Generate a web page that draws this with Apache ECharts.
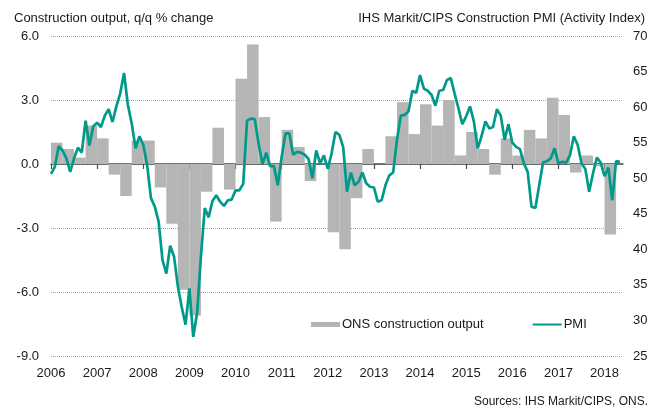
<!DOCTYPE html>
<html>
<head>
<meta charset="utf-8">
<script src="https://cdn.jsdelivr.net/npm/echarts@6/dist/echarts.min.js"></script>
<style>
  html, body { margin: 0; padding: 0; background: #fff; }
  #chart { width: 660px; height: 407px; }
</style>
</head>
<body>
<div id="chart"></div>
<script>
// year tick labels
var years = [2006, 2007, 2008, 2009, 2010, 2011, 2012, 2013, 2014, 2015, 2016, 2017, 2018];

// ONS construction output, q/q % change, 2006 Q1 .. 2018 Q1
var outputQ = [
  1.0, 0.7, 0.3, 1.8,
  1.2, -0.5, -1.5, 1.1,
  1.1, -1.1, -2.8, -5.9,
  -7.1, -1.3, 1.7, -1.2,
  4.0, 5.6, 2.2, -2.7,
  1.6, 0.8, -0.8, 0.0,
  -3.2, -4.0, -1.6, 0.7,
  0.0, 1.3, 2.9, 1.4,
  2.8, 1.8, 3.0, 0.4,
  1.5, 0.7, -0.5, 1.2,
  0.4, 1.6, 1.2, 3.1,
  2.3, -0.4, 0.4, -0.1,
  -3.3
];

// PMI (activity index), monthly, Jan 2006 .. May 2018
var pmiM = [
  50.6, 51.6, 54.5, 53.9, 52.8, 50.9, 52.8, 54.3, 53.6, 58.1, 54.6, 57.3,
  57.8, 57.2, 58.8, 59.7, 57.9, 60.1, 61.9, 64.8, 60.3, 57.7, 54.2, 55.9,
  54.7, 51.9, 47.2, 46.0, 43.9, 38.5, 36.6, 40.5, 39.0, 34.8, 31.9, 29.4,
  34.5, 27.7, 31.0, 39.0, 45.8, 44.5, 46.8, 47.6, 46.7, 46.1, 46.9, 47.0,
  48.3, 48.3, 49.2, 58.1, 58.4, 58.3, 54.9, 52.0, 53.6, 51.7, 51.7, 49.0,
  53.0, 56.3, 56.3, 53.3, 53.7, 53.6, 53.3, 52.7, 50.0, 53.9, 52.1, 53.2,
  51.3, 53.5, 56.5, 56.1, 54.4, 48.1, 50.8, 49.0, 49.5, 50.8, 49.3, 48.8,
  48.7, 46.7, 46.9, 49.0, 50.4, 50.8, 55.4, 58.8, 58.9, 59.4, 62.3, 62.0,
  64.5, 62.6, 62.3, 61.7, 60.2, 62.3, 62.4, 63.8, 64.1, 61.9, 59.8, 57.6,
  58.7, 60.1, 58.0, 54.2, 55.9, 58.0, 57.0, 57.2, 59.7, 58.8, 55.4, 57.6,
  55.0, 54.4, 54.1, 52.1, 50.9, 46.0, 45.8, 49.0, 52.2, 52.4, 52.8, 54.2,
  52.1, 52.3, 52.2, 53.2, 55.9, 54.7, 52.1, 51.3, 48.1, 50.7, 52.9, 52.2,
  50.3, 51.5, 46.9, 52.4, 52.3
];

var startYear = 2006, endYear = 2018.4;
var gridL = 51, gridR = 37, W = 660;
var barData = outputQ.map(function (v, i) { return [startYear + i / 4 + 0.125, v]; });
var lineData = pmiM.map(function (v, i) { return [startYear + i / 12, v]; });
// one quarter in pixels
var quarterPx = (W - gridL - gridR) / (endYear - startYear) / 4;

var font = "'Liberation Sans', Arial, sans-serif";
var txt = '#1a1a1a';
var teal = '#009a8a';

var chart = echarts.init(document.getElementById('chart'));
var option = {
  animation: false,
  backgroundColor: '#fff',
  textStyle: { fontFamily: font },
  title: [
    { text: 'Construction output, q/q % change', left: 9, top: 7,
      textStyle: { fontSize: 13, fontWeight: 'normal', color: txt, fontFamily: font } },
    { text: 'IHS Markit/CIPS Construction PMI (Activity Index)', right: 10, top: 7,
      textStyle: { fontSize: 13, fontWeight: 'normal', color: txt, fontFamily: font } },
    { text: 'Sources: IHS Markit/CIPS, ONS.', right: 7, top: 391,
      textStyle: { fontSize: 12, fontWeight: 'normal', color: txt, fontFamily: font } }
  ],
  legend: {
    left: 306, top: 313,
    itemWidth: 29, itemHeight: 5, itemGap: 48,
    textStyle: { fontSize: 13, color: txt, fontFamily: font, padding: [0, 0, 0, -3] },
    data: [
      { name: 'ONS construction output', icon: 'rect' },
      { name: 'PMI', itemStyle: { opacity: 0 } }
    ]
  },
  grid: { left: gridL, right: gridR, top: 36, bottom: 51 },
  xAxis: [
    {
      type: 'value', min: startYear, max: endYear, position: 'bottom',
      axisLine: { show: true, onZero: true, onZeroAxisIndex: 0, lineStyle: { color: '#4a4a4a', width: 1.5 } },
      axisTick: { show: true, customValues: years, length: 5, lineStyle: { color: '#4a4a4a', width: 1.2 } },
      axisLabel: { show: false },
      splitLine: { show: false }
    },
    {
      type: 'value', min: startYear, max: endYear, position: 'bottom',
      axisLine: { show: false, onZero: false },
      axisTick: { show: false },
      axisLabel: { customValues: years, margin: 11, fontSize: 13, color: txt, fontFamily: font,
        formatter: function (v) { return String(v); } },
      splitLine: { show: false }
    }
  ],
  yAxis: [
    {
      type: 'value', min: -9, max: 6, interval: 3,
      axisLine: { show: false }, axisTick: { show: false },
      axisLabel: { margin: 12, fontSize: 13, color: txt, fontFamily: font,
        formatter: function (v) { return v.toFixed(1); } },
      splitLine: { show: true, lineStyle: { color: '#a6a6a6', type: 'dotted', width: 1 } }
    },
    {
      type: 'value', min: 25, max: 70, interval: 5, position: 'right',
      axisLine: { show: false }, axisTick: { show: false },
      axisLabel: { margin: 10, fontSize: 13, color: txt, fontFamily: font },
      splitLine: { show: false }
    }
  ],
  series: [
    {
      name: 'ONS construction output', type: 'bar',
      xAxisIndex: 0, yAxisIndex: 0,
      barWidth: quarterPx, barGap: '0%',
      itemStyle: { color: '#b5b5b5' },
      data: barData, z: 2
    },
    {
      name: 'PMI', type: 'line',
      xAxisIndex: 0, yAxisIndex: 1,
      symbol: 'none',
      lineStyle: { color: teal, width: 2.7 },
      itemStyle: { color: teal },
      data: lineData, z: 3
    }
  ]
};
chart.setOption(option);
</script>
</body>
</html>
